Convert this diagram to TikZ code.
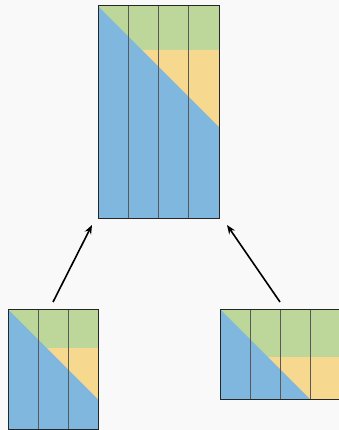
\documentclass[tikz,border=0pt]{standalone}
\usepackage{xcolor}
\usepackage{tikz}
\usetikzlibrary{arrows.meta}
\usetikzlibrary{positioning}

\definecolor{bggray}{HTML}{F9F9F9}
\definecolor{cblue}{HTML}{7FB7DE}
\definecolor{cgreen}{HTML}{BDD79B}
\definecolor{cyellow}{HTML}{F7D88F}

\begin{document}
\begin{tikzpicture}[
    x=1pt,y=-1pt, % work in pixel-like units, y going down
    outer sep=0pt,inner sep=0pt,
    mat/.style={draw=black!85,line width=1pt,rectangle,anchor=north west},
    col/.style={draw=black!65,line width=1pt},
    feed/.style={-{Stealth[length=9pt,width=7pt]},line width=1.6pt},
    ]
    \fill[bggray] (0,0) rectangle (339,430);
    \useasboundingbox (0,0) rectangle (339,430);

    % big block: 4 columns
    \fill[cblue]   (98,6) rectangle (219,218);
    \fill[cgreen]  (98,6) -- (219,6) -- (219,50) -- (142,50) -- cycle;
    \fill[cyellow] (142,50) -- (219,50) -- (219,127) -- cycle;
    \foreach \x in {128.25,158.5,188.75}
        \draw[col] (\x,6) -- (\x,218);
    \node (full) [mat,minimum width=121,minimum height=212] at (98,6) {};

    % left block: 3 columns
    \fill[cblue]   (8,309) rectangle (98,429);
    \fill[cgreen]  (8,309) -- (98,309) -- (98,348) -- (47,348) -- cycle;
    \fill[cyellow] (47,348) -- (98,348) -- (98,399) -- cycle;
    \foreach \x in {38,68}
        \draw[col] (\x,309) -- (\x,429);
    \node (partA) [mat,minimum width=90,minimum height=120] at (8,309) {};

    % right block: 4 columns, runs off the edge
    \fill[cblue]   (220,309) rectangle (340,399);
    \fill[cgreen]  (220,309) -- (340,309) -- (340,357) -- (268,357) -- cycle;
    \fill[cyellow] (268,357) -- (340,357) -- (340,399) -- (310,399) -- cycle;
    \foreach \x in {250,280,310}
        \draw[col] (\x,309) -- (\x,399);
    \node (partB) [mat,minimum width=120,minimum height=90] at (220,309) {};

    \draw[feed] ([yshift=7]partA.north) -- ([xshift=-6,yshift=-7]full.south west);
    \draw[feed] ([yshift=7]partB.north) -- ([xshift=8,yshift=-7]full.south east);
\end{tikzpicture}
\end{document}
